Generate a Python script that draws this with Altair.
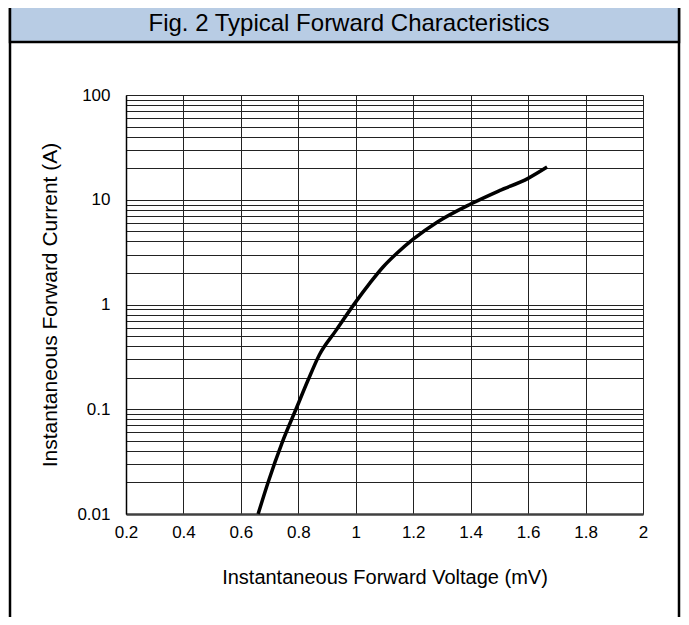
import altair as alt
import pandas as pd

# Curve (V, A)
voltage = [0.66, 0.694, 0.743, 0.795, 0.834, 0.873, 0.93, 1.0, 1.049, 1.095,
           1.144, 1.2, 1.283, 1.4, 1.5, 1.6, 1.666]
current = [0.01, 0.0198, 0.0476, 0.105, 0.19, 0.33, 0.56, 1.06, 1.6, 2.28,
           3.1, 4.2, 6.1, 9.1, 12.2, 16.0, 20.5]

x_ticks = [0.2, 0.4, 0.6, 0.8, 1.0, 1.2, 1.4, 1.6, 1.8, 2.0]
y_grid = [m * d for d in [0.01, 0.1, 1, 10] for m in range(1, 10)] + [100]

title_text = "Fig. 2 Typical Forward Characteristics"
x_title = "Instantaneous Forward Voltage (mV)"
y_title = "Instantaneous Forward Current (A)"

FONT = "Liberation Sans"
W, H = 517, 419

df = pd.DataFrame({"v": voltage, "i": current})

x_enc = alt.X(
    "v:Q",
    scale=alt.Scale(domain=[0.2, 2.0], nice=False, zero=False),
    axis=alt.Axis(
        values=x_ticks, format="~g", grid=True, gridColor="#222", gridWidth=1,
        ticks=False, domainColor="#404040", domainWidth=2.5,
        labelFontSize=17, labelFont=FONT, labelColor="#000", labelPadding=10,
        labelOverlap=False, labelFlush=False,
        title=x_title, titleFont=FONT, titleFontSize=20, titleFontWeight="normal",
        titleColor="#000", titlePadding=27,
    ),
)
y_enc = alt.Y(
    "i:Q",
    scale=alt.Scale(type="log", domain=[0.01, 100], nice=False),
    axis=alt.Axis(
        values=y_grid, grid=True, gridColor="#222", gridWidth=1,
        ticks=False, domainColor="#000", domainWidth=1.5,
        labelExpr="(abs(log(datum.value)/LN10 - round(log(datum.value)/LN10)) < 0.001) ? format(datum.value, '~g') : ''",
        labelFontSize=17, labelFont=FONT, labelColor="#000", labelPadding=16,
        labelOverlap=False, labelFlush=False,
        title=y_title, titleFont=FONT, titleFontSize=21, titleFontWeight="normal",
        titleColor="#000", titlePadding=16,
    ),
)

line = alt.Chart(df).mark_line(
    color="#000", strokeWidth=3.5, interpolate="monotone"
).encode(x=x_enc, y=y_enc)

# decorative frame (pixel positions relative to plot origin)
frame = alt.Chart(pd.DataFrame({"k": [0]})).mark_rect(
    fill="white", fillOpacity=0, stroke="#000", strokeWidth=2.5
).encode(
    x=alt.value(10 - 126), x2=alt.value(679 - 126),
    y=alt.value(4 - 95), y2=alt.value(640),
)
title_bar = alt.Chart(pd.DataFrame({"k": [0]})).mark_rect(
    fill="#b8cce4", stroke="#000", strokeWidth=2.5
).encode(
    x=alt.value(10 - 126), x2=alt.value(679 - 126),
    y=alt.value(4 - 95), y2=alt.value(42 - 95),
)
title = alt.Chart(pd.DataFrame({"t": [title_text]})).mark_text(
    font=FONT, fontSize=24, color="#000", align="center", baseline="middle"
).encode(
    text="t:N", x=alt.value(349 - 126), y=alt.value(24 - 95),
)

chart = alt.layer(frame, title_bar, title, line).properties(
    width=W, height=H,
    autosize=alt.AutoSizeParams(type="none"),
    padding={"left": 118, "top": 87, "right": 38, "bottom": 103},
).configure_view(stroke=None)

chart.save("out.html", embed_options={"renderer": "svg", "actions": False})
